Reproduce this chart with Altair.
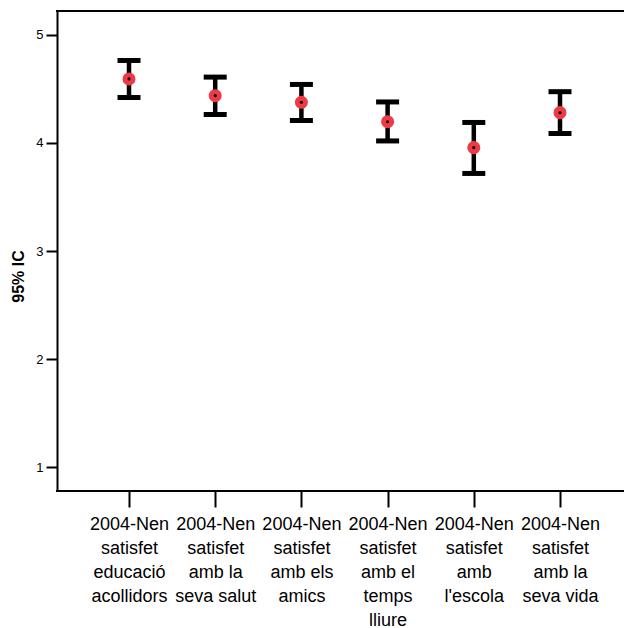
import altair as alt
import pandas as pd

categories = [
    "2004-Nen\nsatisfet\neducació\nacollidors",
    "2004-Nen\nsatisfet\namb la\nseva salut",
    "2004-Nen\nsatisfet\namb els\namics",
    "2004-Nen\nsatisfet\namb el\ntemps\nlliure",
    "2004-Nen\nsatisfet\namb\nl'escola",
    "2004-Nen\nsatisfet\namb la\nseva vida",
]
means = [4.593, 4.438, 4.377, 4.197, 3.957, 4.281]
upper = [4.764, 4.610, 4.542, 4.380, 4.190, 4.475]
lower = [4.421, 4.264, 4.208, 4.019, 3.718, 4.088]
y_ticks = [1, 2, 3, 4, 5]

df = pd.DataFrame({"cat": categories, "mean": means, "upper": upper, "lower": lower})

W, H = 567, 480
FONT = "Liberation Sans"

xenc = alt.X(
    "cat:N",
    sort=categories,
    scale=alt.Scale(type="point", range=[72, 503], padding=0),
    axis=alt.Axis(
        title=None,
        labelAngle=0,
        labelExpr="split(datum.label, '\\n')",
        labelFont=FONT,
        labelFontSize=18,
        labelColor="black",
        labelLineHeight=24,
        labelPadding=8,
        labelBaseline="top",
        labelAlign="center",
        tickSize=16,
        tickWidth=2,
        tickColor="black",
        domain=False,
        labelOverlap=False,
        labelLimit=0,
    ),
)

yscale = alt.Scale(domain=[0.778, 5.222], nice=False, zero=False)
yaxis = alt.Axis(
    title="95% IC",
    values=y_ticks,
    format="d",
    grid=False,
    labelFont=FONT,
    labelFontSize=13,
    labelColor="black",
    labelPadding=3,
    tickSize=11,
    tickWidth=2,
    tickColor="black",
    domainColor="black",
    domainWidth=2,
    titleFont=FONT,
    titleFontSize=16,
    titleFontWeight="bold",
    titleColor="black",
    titleX=-39,
    titleY=265,
    titleAlign="center",
    titleBaseline="middle",
)

base = alt.Chart(df)

stems = base.mark_rule(color="black", strokeWidth=4.5).encode(
    x=xenc,
    y=alt.Y("lower:Q", scale=yscale, axis=yaxis),
    y2="upper:Q",
)
caps_hi = base.mark_tick(color="black", thickness=5, size=23, opacity=1).encode(
    x=alt.X("cat:N", sort=categories), y=alt.Y("upper:Q")
)
caps_lo = base.mark_tick(color="black", thickness=5, size=23, opacity=1).encode(
    x=alt.X("cat:N", sort=categories), y=alt.Y("lower:Q")
)
dots = base.mark_point(filled=True, color="#ee3a45", size=170, opacity=1).encode(
    x=alt.X("cat:N", sort=categories), y=alt.Y("mean:Q")
)
centers = base.mark_point(filled=True, color="black", size=10, opacity=1).encode(
    x=alt.X("cat:N", sort=categories), y=alt.Y("mean:Q")
)
frame = pd.DataFrame({"a": [0]})
top_border = alt.Chart(frame).mark_rule(color="black", strokeWidth=2).encode(
    x=alt.value(-1), x2=alt.value(W + 10), y=alt.value(0)
)
bottom_border = alt.Chart(frame).mark_rule(color="black", strokeWidth=2).encode(
    x=alt.value(-1), x2=alt.value(W + 10), y=alt.value(H)
)

chart = (
    alt.layer(stems, caps_hi, caps_lo, dots, centers, top_border, bottom_border)
    .properties(
        width=W,
        height=H,
        autosize=alt.AutoSizeParams(type="none"),
        padding={"left": 49, "top": 3, "right": 0, "bottom": 140},
    )
    .configure_view(stroke=None)
)

chart.save("out.html", embed_options={"renderer": "svg", "actions": False})
